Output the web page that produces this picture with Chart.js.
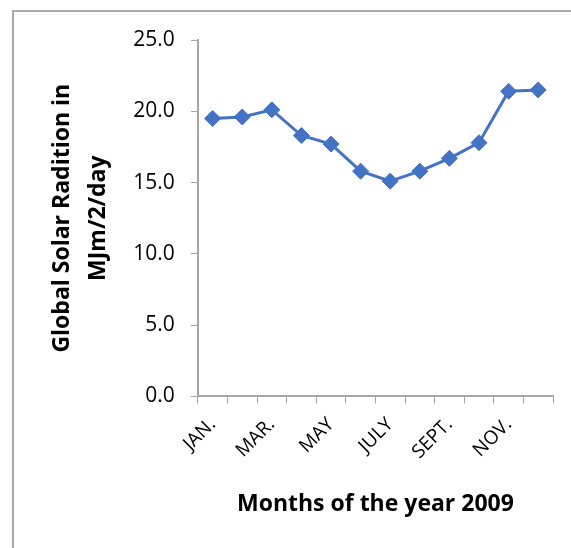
<!DOCTYPE html>
<html>
<head>
<meta charset="utf-8">
<script src="https://cdn.jsdelivr.net/npm/chart.js@4/dist/chart.umd.min.js"></script>
<style>
  html, body { margin: 0; padding: 0; background: #fff; }
  #wrap { position: relative; width: 571px; height: 548px; overflow: hidden; }
  #frame {
    position: absolute; left: 12px; top: 10px; width: 600px; height: 600px;
    border-left: 2px solid #a9a9a9; border-top: 2px solid #a9a9a9;
  }
  canvas { position: absolute; left: 0; top: 0; }
</style>
</head>
<body>
<div id="wrap">
  <div id="frame"></div>
  <canvas id="solarChart" width="571" height="548"></canvas>
</div>
<script>
// months of 2009 (only every other one is labelled on the axis)
const months = ['JAN.', 'FEB.', 'MAR.', 'APR.', 'MAY', 'JUNE', 'JULY', 'AUG.', 'SEPT.', 'OCT.', 'NOV.', 'DEC.']
// global solar radiation, MJ/m2/day
const radiation = [19.5, 19.6, 20.1, 18.3, 17.7, 15.8, 15.1, 15.8, 16.7, 17.8, 21.4, 21.5]
const yTitle = ['Global Solar Radition in', 'MJm/2/day']
const xTitle = 'Months of the year 2009'

const axisGray = '#a6a6a6'
const blue = '#4472c4'

const ctx = document.getElementById('solarChart').getContext('2d')

new Chart(ctx, {
  type: 'line',
  data: {
    labels: months,
    datasets: [{
      label: 'Radiation',
      data: radiation,
      borderColor: blue,
      backgroundColor: blue,
      borderWidth: 3,
      tension: 0,
      pointStyle: 'rectRot',
      pointRadius: 8,
      pointBorderWidth: 1,
      fill: false
    }]
  },
  options: {
    responsive: false,
    animation: false,
    layout: {
      padding: { left: 41, right: 18, top: 40, bottom: 26 }
    },
    plugins: {
      legend: { display: false },
      tooltip: { enabled: false }
    },
    scales: {
      x: {
        offset: true,
        grid: {
          offset: true,
          drawOnChartArea: false,
          drawTicks: true,
          tickLength: 7,
          color: axisGray
        },
        border: { color: axisGray, width: 2 },
        ticks: {
          autoSkip: false,
          minRotation: 45,
          maxRotation: 45,
          padding: 10,
          color: '#000',
          font: { family: 'Open Sans', size: 19 },
          callback: function(value, index) {
            return index % 2 === 0 ? months[index] : ''
          }
        },
        title: {
          display: true,
          text: xTitle,
          color: '#000',
          padding: { top: 17 },
          font: { family: 'Open Sans', size: 23, weight: 'bold' }
        }
      },
      y: {
        min: 0,
        max: 25,
        grid: {
          drawOnChartArea: false,
          drawTicks: true,
          tickLength: 7,
          color: axisGray
        },
        border: { color: axisGray, width: 2 },
        ticks: {
          stepSize: 5,
          padding: 16,
          color: '#000',
          font: { family: 'Open Sans', size: 21 },
          callback: function(value) {
            return value.toFixed(1)
          }
        },
        title: {
          display: true,
          text: yTitle,
          color: '#000',
          padding: { bottom: 1 },
          font: { family: 'Open Sans', size: 23, weight: 'bold', lineHeight: 1.55 }
        }
      }
    }
  }
})
</script>
</body>
</html>
